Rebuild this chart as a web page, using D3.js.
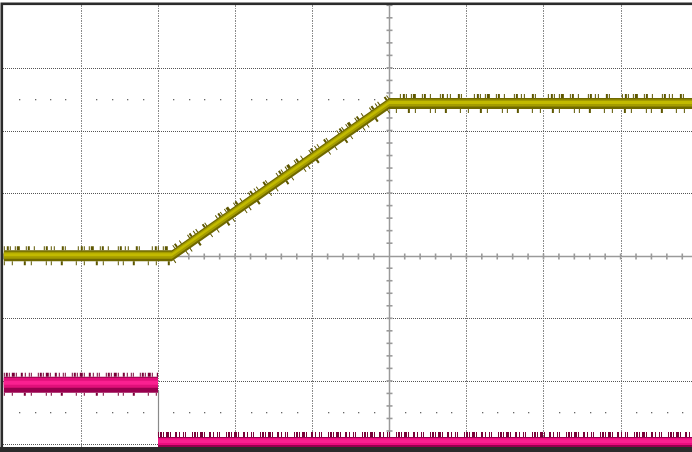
<!DOCTYPE html>
<html>
<head>
<meta charset="utf-8">
<script src="https://cdn.jsdelivr.net/npm/d3@7"></script>
<style>
  html, body { margin: 0; padding: 0; background: #ffffff; }
  svg { display: block; }
</style>
</head>
<body>
<div id="chart"></div>
<script>
// ---- Data (in screen divisions) ----
const ch1Time  = [-5, -2.82, 0.0, 3.95];
const ch1Volts = [0.0, 0.0, 2.43, 2.43];

const ch2HighTime  = [-5, -3.0];
const ch2HighVolts = [-2.03, -2.03];
const ch2LowTime   = [-3.0, 3.95];
const ch2LowVolts  = [-2.96, -2.96];

const xMajorTicks = [-4, -3, -2, -1, 1, 2, 3, 4];
const yMajorTicks = [3, 2, 1, -1, -2, -3];
const dotRows = [2.5, -2.5];

// ---- Layout ----
const W = 692, H = 452;
const svg = d3.select("#chart").append("svg").attr("width", W).attr("height", H);

const x = d3.scaleLinear().domain([-5, 5]).range([3.8, 774.8]);
const y = d3.scaleLinear().domain([4, -4]).range([5.3, 506.1]);

const plot = { left: 3, top: 5, right: W, bottom: 447 };

svg.append("defs").append("clipPath").attr("id", "clip")
  .append("rect").attr("x", plot.left).attr("y", plot.top)
  .attr("width", plot.right - plot.left).attr("height", plot.bottom - plot.top);

const g = svg.append("g").attr("clip-path", "url(#clip)");

// grid - vertical dotted lines
g.selectAll(".vgrid").data(xMajorTicks).join("line")
  .attr("x1", d => Math.round(x(d)) + 0.5).attr("x2", d => Math.round(x(d)) + 0.5)
  .attr("y1", plot.top).attr("y2", plot.bottom)
  .attr("stroke", "#8a8a8a").attr("stroke-width", 1)
  .attr("stroke-dasharray", "2,1,1,1");

// grid - horizontal dotted lines
g.selectAll(".hgrid").data(yMajorTicks).join("line")
  .attr("y1", d => Math.round(y(d)) + 0.5).attr("y2", d => Math.round(y(d)) + 0.5)
  .attr("x1", plot.left).attr("x2", plot.right)
  .attr("stroke", "#555", "").attr("stroke-width", 1)
  .attr("stroke-dasharray", "1,1");

// dot rows
const minorX = d3.range(-25, 26).map(i => i / 5).filter(v => Math.abs(v - Math.round(v)) > 1e-6);
dotRows.forEach(r => {
  g.selectAll(null).data(minorX).join("rect")
    .attr("x", d => Math.round(x(d))).attr("y", Math.round(y(r)))
    .attr("width", 1.3).attr("height", 1.3).attr("fill", "#666");
});

// center axes
const cx = Math.round(x(0)) + 0.5, cy = Math.round(y(0)) + 0.5;
const axisColor = "#9a9a9a";
g.append("line").attr("x1", cx).attr("x2", cx).attr("y1", plot.top).attr("y2", plot.bottom)
  .attr("stroke", axisColor).attr("stroke-width", 1.5);
g.append("line").attr("y1", cy).attr("y2", cy).attr("x1", plot.left).attr("x2", plot.right)
  .attr("stroke", axisColor).attr("stroke-width", 1.5);
const minorXT = d3.range(-25, 26).map(i => i / 5).filter(v => v !== 0);
const minorYT = d3.range(-20, 21).map(i => i / 5).filter(v => v !== 0);
g.selectAll(".xt").data(minorXT).join("line")
  .attr("x1", d => x(d)).attr("x2", d => x(d)).attr("y1", cy - 3).attr("y2", cy + 3)
  .attr("stroke", axisColor).attr("stroke-width", 1.6);
g.selectAll(".yt").data(minorYT).join("line")
  .attr("y1", d => y(d)).attr("y2", d => y(d)).attr("x1", cx - 3).attr("x2", cx + 3)
  .attr("stroke", axisColor).attr("stroke-width", 1.6);

// ---- traces ----
const zip = (ts, vs) => ts.map((t, i) => ({ t, v: vs[i] }));
const bandArea = (top, bot) => d3.area().x(d => x(d.t)).y0(d => y(d.v) + bot).y1(d => y(d.v) - top);
const offLine = (off) => d3.line().x(d => x(d.t)).y(d => y(d.v) + off);

const spikeA = "1,2,2,1,1,4,1,1,3,6,1,1,2,4,1,9,1,1,2,3,1,2,1,7,2,1,1,12";
const spikeB = "1,7,1,11,2,5,1,14,1,4,1,9,2,13";
const spikeC = "1,1,2,1,1,2,3,1,1,4,2,2,1,3,1,1,1,6";

function drawTrace(data, cfg) {
  const t = g.append("g");
  t.append("path").datum(data).attr("d", offLine(-cfg.top - cfg.spikeUp / 2))
    .attr("fill", "none").attr("stroke", cfg.spike).attr("stroke-width", cfg.spikeUp)
    .attr("stroke-dasharray", cfg.dashUp);
  t.append("path").datum(data).attr("d", offLine(cfg.bot + cfg.spikeDn / 2))
    .attr("fill", "none").attr("stroke", cfg.spike).attr("stroke-width", cfg.spikeDn)
    .attr("stroke-dasharray", cfg.dashDn);
  t.append("path").datum(data).attr("d", bandArea(cfg.top, cfg.bot)).attr("fill", cfg.dark);
  t.append("path").datum(data).attr("d", bandArea(cfg.midTop, cfg.midBot)).attr("fill", cfg.mid);
  t.append("path").datum(data).attr("d", bandArea(cfg.coreTop, cfg.coreBot)).attr("fill", cfg.core);
}

// CH1 (yellow)
drawTrace(zip(ch1Time, ch1Volts), {
  top: 5.5, bot: 5.5, midTop: 4, midBot: 3, coreTop: 2.5, coreBot: 0.5,
  spikeUp: 4, spikeDn: 4, dashUp: spikeA, dashDn: spikeB,
  spike: "#5e5700", dark: "#6f6800", mid: "#a39b00", core: "#c2ba00"
});

// CH2 (magenta) - edge line
g.append("line")
  .attr("x1", Math.round(x(ch2LowTime[0])) + 0.5).attr("x2", Math.round(x(ch2LowTime[0])) + 0.5)
  .attr("y1", y(ch2HighVolts[1]) + 8).attr("y2", y(ch2LowVolts[0]) - 5)
  .attr("stroke", "#8a8a8a").attr("stroke-width", 1.2);

drawTrace(zip(ch2HighTime, ch2HighVolts), {
  top: 6, bot: 10, midTop: 5, midBot: 5, coreTop: 2, coreBot: 2,
  spikeUp: 4, spikeDn: 3, dashUp: spikeC, dashDn: spikeB,
  spike: "#7a0038", dark: "#98004e", mid: "#e0107a", core: "#fa2090"
});
drawTrace(zip(ch2LowTime, ch2LowVolts), {
  top: 4, bot: 8, midTop: 3, midBot: 4, coreTop: 1.5, coreBot: 2,
  spikeUp: 5, spikeDn: 3, dashUp: spikeC, dashDn: spikeB,
  spike: "#7a0038", dark: "#98004e", mid: "#ec0c7e", core: "#fa2090"
});

// ---- frame ----
svg.append("rect").attr("x", 1.8).attr("y", 3.8).attr("width", W + 10).attr("height", 444.5)
  .attr("fill", "none").attr("stroke", "#2b2b2b").attr("stroke-width", 2.6);
svg.append("rect").attr("x", 0).attr("y", 447).attr("width", W).attr("height", 5).attr("fill", "#2b2b2b");
</script>
</body>
</html>
